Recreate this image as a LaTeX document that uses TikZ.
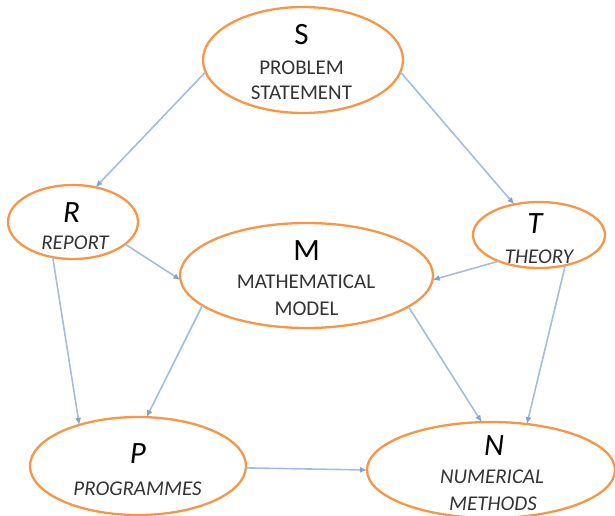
\documentclass[tikz,border=0pt]{standalone}
\usepackage{fontspec}
\setmainfont{Carlito}
\usetikzlibrary{shapes.geometric,arrows.meta}
\definecolor{ell}{HTML}{F79646}
\definecolor{arr}{HTML}{A3BDE0}
\definecolor{tip}{HTML}{7FA2D2}
\definecolor{lab}{HTML}{333333}
\begin{document}
\begin{tikzpicture}[x=1pt,y=-1pt,
 oval/.style={ellipse, draw=ell, line width=2.3pt, inner sep=0pt, outer sep=0pt},
 conn/.style={draw=arr, line width=1.6pt, -{Latex[length=7pt,width=6pt,color=tip]}},
 letter/.style={anchor=base, inner sep=0pt, font=\fontsize{31}{31}\selectfont, text=black},
 lbl/.style={anchor=base, inner sep=0pt, font=\fontsize{21}{21}\selectfont, text=lab}]
\useasboundingbox (0,0) rectangle (615,516);
\clip (0,0) rectangle (615,516);
% ellipses
\node[oval, minimum width=200pt, minimum height=106pt] (S) at (303,60) {};
\node[oval, minimum width=130pt, minimum height=74pt] (R) at (73,222) {};
\node[oval, minimum width=132pt, minimum height=66pt] (T) at (539,235) {};
\node[oval, minimum width=253pt, minimum height=105pt] (M) at (306.5,275.5) {};
\node[oval, minimum width=216pt, minimum height=98pt] (P) at (138,466) {};
\node[oval, minimum width=248pt, minimum height=96pt] (N) at (491,470) {};
% texts
\node[letter] (Sl) at (301.5,45) {S};
\node[lbl] (Sa) at (301.5,75) {PROBLEM};
\node[lbl] (Sb) at (301.5,100) {STATEMENT};
\node[letter, font=\fontsize{31}{31}\selectfont\itshape] (Rl) at (71.5,222) {R};
\node[lbl, font=\fontsize{21}{21}\selectfont\itshape] (Ra) at (75,249) {REPORT};
\node[letter, font=\fontsize{31}{31}\selectfont\itshape] (Tl) at (535,233) {T};
\node[lbl, font=\fontsize{21}{21}\selectfont\itshape] (Ta) at (539,263) {THEORY};
\node[letter] (Ml) at (306.5,260) {M};
\node[lbl] (Ma) at (306,288) {MATHEMATICAL};
\node[lbl] (Mb) at (306.5,315) {MODEL};
\node[letter, font=\fontsize{31}{31}\selectfont\itshape] (Pl) at (138,463) {P};
\node[lbl, font=\fontsize{21}{21}\selectfont\itshape] (Pa) at (137.5,495) {PROGRAMMES};
\node[letter, font=\fontsize{31}{31}\selectfont\itshape] (Nl) at (494,455) {N};
\node[lbl, font=\fontsize{21}{21}\selectfont\itshape] (Na) at (492,483) {NUMERICAL};
\node[lbl, font=\fontsize{21}{21}\selectfont\itshape] (Nb) at (493,510) {METHODS};
% connectors
\draw[conn] (S.187) -- (R.57);
\draw[conn] (S.353) -- (T.129);
\draw[conn] (R.337) -- (M.182);
\draw[conn] (R.240) -- (P.145);
\draw[conn] (T.213) -- (M.358);
\draw[conn] (T.311) -- (N.52);
\draw[conn] (M.196) -- (P.80);
\draw[conn] (M.343) -- (N.101);
\draw[conn] (P.359) -- (N.180);
\end{tikzpicture}
\end{document}
